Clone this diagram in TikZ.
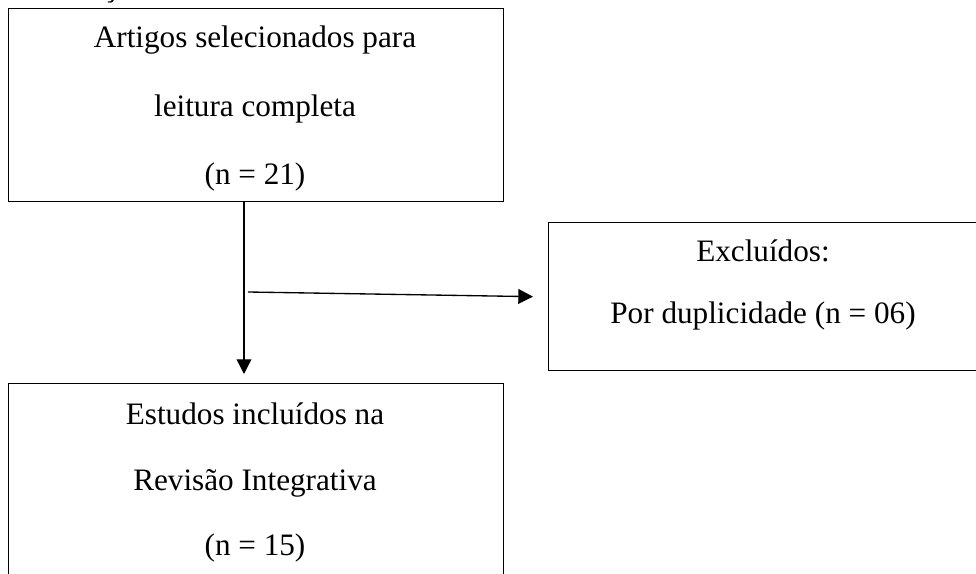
\documentclass[tikz,border=0pt]{standalone}
\usepackage{fontspec}
\setmainfont{Liberation Serif}
\usetikzlibrary{arrows.meta,calc}
\begin{document}
\begin{tikzpicture}[x=0.75pt,y=-0.75pt,
  box/.style={draw=black,line width=1pt,inner sep=0pt,anchor=north west},
  lbl/.style={inner sep=0pt,anchor=base,font=\fontsize{23.4}{28}\selectfont},
  arr/.style={line width=1pt,-{Triangle[length=11pt,width=11pt]}}]
\clip (0,0) rectangle (976,574);
\fill[white] (0,0) rectangle (976,574);
% boxes
\node[box,minimum width=371.25pt,minimum height=144.75pt] (top) at (8,8) {};
\node[box,minimum width=328.5pt,minimum height=111pt] (excl) at (548,222) {};
\node[box,minimum width=371.25pt,minimum height=165pt] (bot) at (8,383) {};
% cut-off heading fragment
\node[lbl] (cut) at (110,-3) {ç};
% texts
\node[lbl] (t1) at (255,48) {Artigos selecionados para};
\node[lbl] (t2) at (255,117) {leitura completa};
\node[lbl] (t3) at (255,185) {(n = 21)};
\node[lbl] (e1) at (763,262) {Excluídos:};
\node[lbl] (e2) at (763,324) {Por duplicidade (n = 06)};
\node[lbl] (b1) at (255,425) {Estudos incluídos na};
\node[lbl] (b2) at (255,490) {Revisão Integrativa};
\node[lbl] (b3) at (255,555) {(n = 15)};
% connectors
\coordinate (vEnd) at (244,374);
\draw[arr] (top.south -| vEnd) -- (vEnd);
\coordinate (hStart) at (248,292);
\coordinate (hEnd) at ($(excl.west)+(-15,0)$);
\draw[arr] (hStart) -- (hEnd);
\end{tikzpicture}
\end{document}
